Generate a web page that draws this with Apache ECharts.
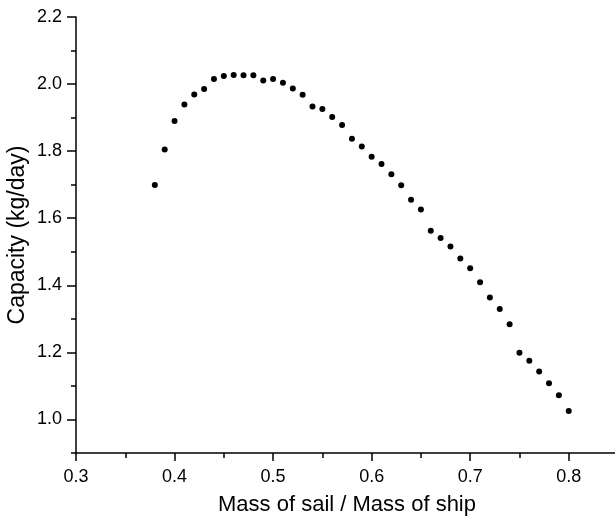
<!DOCTYPE html>
<html>
<head>
<meta charset="utf-8">
<script src="https://cdn.jsdelivr.net/npm/echarts@6/dist/echarts.min.js"></script>
<style>
  html, body { margin: 0; padding: 0; background: #fff; }
  #chart { width: 615px; height: 518px; }
</style>
</head>
<body>
<div id="chart"></div>
<script>
// mass ratio (sail / ship) and capacity readings
var massRatio = [0.38, 0.39, 0.40, 0.41, 0.42, 0.43, 0.44, 0.45, 0.46, 0.47, 0.48, 0.49, 0.50,
    0.51, 0.52, 0.53, 0.54, 0.55, 0.56, 0.57, 0.58, 0.59, 0.60, 0.61, 0.62, 0.63, 0.64, 0.65,
    0.66, 0.67, 0.68, 0.69, 0.70, 0.71, 0.72, 0.73, 0.74, 0.75, 0.76, 0.77, 0.78, 0.79, 0.80];
var capacity = [1.699, 1.805, 1.890, 1.939, 1.969, 1.985, 2.015, 2.024, 2.027, 2.026, 2.026, 2.011, 2.015,
    2.004, 1.987, 1.968, 1.933, 1.926, 1.902, 1.878, 1.837, 1.814, 1.783, 1.762, 1.731, 1.698, 1.655, 1.626,
    1.563, 1.541, 1.516, 1.480, 1.451, 1.409, 1.364, 1.329, 1.284, 1.199, 1.175, 1.143, 1.108, 1.072, 1.025];

var xTicks = [0.3, 0.4, 0.5, 0.6, 0.7, 0.8];
var xMinorTicks = [0.35, 0.45, 0.55, 0.65, 0.75];
var yTicks = [1.0, 1.2, 1.4, 1.6, 1.8, 2.0, 2.2];
var yMinorTicks = [0.9, 1.1, 1.3, 1.5, 1.7, 1.9, 2.1];

var chartDom = document.getElementById('chart');
var myChart = echarts.init(chartDom);

var font = 'Liberation Sans, Arial, sans-serif';
var axisColor = '#000';

function fmt(v) { return Number(v).toFixed(1); }

var points = massRatio.map(function (x, i) { return [x, capacity[i]]; });

var option = {
    animation: false,
    backgroundColor: '#fff',
    grid: {
        left: 76,
        top: 17,
        width: 542,
        height: 436,
        outerBoundsMode: 'none',
        containLabel: false
    },
    xAxis: [
        {
            type: 'value',
            min: 0.3,
            max: 0.85,
            position: 'bottom',
            name: 'Mass of sail / Mass of ship',
            nameLocation: 'middle',
            nameGap: 41,
            nameMoveOverlap: false,
            nameTextStyle: { fontFamily: font, fontSize: 22, color: '#000' },
            axisLine: { onZero: false, lineStyle: { color: axisColor, width: 1.5 } },
            axisTick: { customValues: xTicks, length: 8, lineStyle: { color: axisColor, width: 1.5 } },
            axisLabel: { customValues: xTicks, formatter: fmt, margin: 15, fontFamily: font, fontSize: 18, color: '#000' },
            splitLine: { show: false }
        },
        {
            type: 'value',
            min: 0.3,
            max: 0.85,
            position: 'bottom',
            axisLine: { show: false, onZero: false },
            axisTick: { customValues: xMinorTicks, length: 5, lineStyle: { color: axisColor, width: 1.5 } },
            axisLabel: { show: false },
            splitLine: { show: false }
        }
    ],
    yAxis: [
        {
            type: 'value',
            min: 0.9,
            max: 2.2,
            position: 'left',
            name: 'Capacity (kg/day)',
            nameLocation: 'middle',
            nameGap: 47,
            nameMoveOverlap: false,
            nameTextStyle: { fontFamily: font, fontSize: 23, color: '#000' },
            axisLine: { show: true, onZero: false, lineStyle: { color: axisColor, width: 1.5 } },
            axisTick: { show: true, customValues: yTicks, length: 9, lineStyle: { color: axisColor, width: 1.5 } },
            axisLabel: { customValues: yTicks, formatter: fmt, margin: 14, fontFamily: font, fontSize: 18, color: '#000' },
            splitLine: { show: false }
        },
        {
            type: 'value',
            min: 0.9,
            max: 2.2,
            position: 'left',
            axisLine: { show: false, onZero: false },
            axisTick: { show: true, customValues: yMinorTicks, length: 5, lineStyle: { color: axisColor, width: 1.5 } },
            axisLabel: { show: false },
            splitLine: { show: false }
        }
    ],
    series: [
        {
            type: 'scatter',
            xAxisIndex: 0,
            yAxisIndex: 0,
            data: points,
            symbol: 'circle',
            symbolSize: 6,
            itemStyle: { color: '#000', opacity: 1 }
        }
    ]
};

option && myChart.setOption(option);
</script>
</body>
</html>
